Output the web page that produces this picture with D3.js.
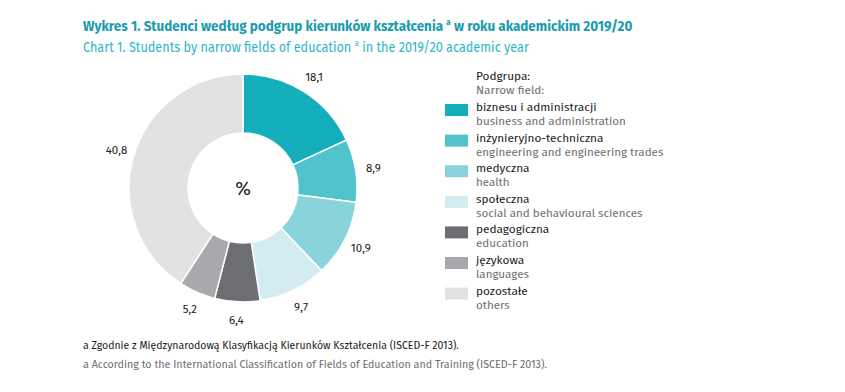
<!DOCTYPE html>
<html><head><meta charset="utf-8">
<script src="https://cdn.jsdelivr.net/npm/d3@7"></script>
<style>
body{margin:0;background:#fff;}
text{font-family:"Fira Sans","Open Sans","Noto Sans",sans-serif;}
</style></head>
<body><svg id="c" width="845" height="392"></svg>
<script>
const categoriesPL = ["biznesu i administracji","inżynieryjno-techniczna","medyczna","społeczna","pedagogiczna","językowa","pozostałe"];
const categoriesEN = ["business and administration","engineering and engineering trades","health","social and behavioural sciences","education","languages","others"];
const values = [18.1, 8.9, 10.9, 9.7, 6.4, 5.2, 40.8];
const valueLabels = ["18,1","8,9","10,9","9,7","6,4","5,2","40,8"];
const colors = ["#14afba","#50c3cc","#89d4da","#d2ecf1","#6d6e71","#a7a9ac","#e1e2e2"];

const svg = d3.select("#c");
const cx = 243, cy = 188, rOut = 114, rIn = 55;

function titleLine(y, parts, opts){
  const t = svg.append("text").attr("x",83).attr("y",y).attr("fill",opts.fill)
    .attr("font-size",15).attr("font-weight",opts.weight);
  t.append("tspan").text(parts[0]);
  t.append("tspan").attr("font-size",9).attr("dy",-6).text("a");
  t.append("tspan").attr("dy",6).text(parts[1]);
  return t;
}
const t1 = titleLine(31, ["Wykres 1. Studenci według podgrup kierunków kształcenia ", " w roku akademickim 2019/20"], {fill:"#1b9bad", weight:"bold"});
const t2 = titleLine(52, ["Chart 1. Students by narrow fields of education ", " in the 2019/20 academic year"], {fill:"#2db6c8", weight:"normal"});
// fit widths to reference
[[t1,550],[t2,446]].forEach(([t,w])=>{
  const bw = t.node().getComputedTextLength();
  const s = w/bw;
  t.attr("transform",`translate(83,0) scale(${s},1) translate(-83,0)`);
});

const pie = d3.pie().sort(null).value(d=>d);
const arcs = pie(values);
const arc = d3.arc().innerRadius(rIn).outerRadius(rOut);
const labelArc = d3.arc().innerRadius(132).outerRadius(132);
const g = svg.append("g").attr("transform",`translate(${cx},${cy})`);
g.selectAll("path").data(arcs).join("path")
  .attr("d",arc).attr("fill",(d,i)=>colors[i]).attr("stroke","#fff").attr("stroke-width",1.5);
g.selectAll("text.lbl").data(arcs).join("text").attr("class","lbl")
  .attr("transform",d=>{const c=labelArc.centroid(d);return `translate(${c[0]},${c[1]})`;})
  .attr("text-anchor","middle").attr("dy","0.35em").attr("font-size",11.5).attr("fill","#222")
  .text((d,i)=>valueLabels[i]);
g.append("text").attr("text-anchor","middle").attr("dy","0.35em").attr("font-size",19).attr("fill","#222").text("%");

const lx = 476, ly = 80;
svg.append("text").attr("x",lx).attr("y",ly).attr("font-size",11.8).attr("fill","#1a1a1a").text("Podgrupa:");
svg.append("text").attr("x",lx).attr("y",ly+14).attr("font-size",11.8).attr("fill","#6d6e71").text("Narrow field:");
const leg = svg.append("g");
categoriesPL.forEach((c,i)=>{
  const y0 = 104 + i*30.6;
  leg.append("rect").attr("x",445).attr("y",y0).attr("width",23).attr("height",12).attr("fill",colors[i]);
  leg.append("text").attr("x",lx).attr("y",y0+7).attr("font-size",11.8).attr("fill","#1a1a1a").text(c);
  leg.append("text").attr("x",lx).attr("y",y0+21).attr("font-size",11.6).attr("fill","#6d6e71").text(categoriesEN[i]);
});

svg.append("text").attr("x",83).attr("y",349).attr("font-size",10.5).attr("fill","#1a1a1a")
  .text("a Zgodnie z Międzynarodową Klasyfikacją Kierunków Kształcenia (ISCED-F 2013).");
svg.append("text").attr("x",83).attr("y",368).attr("font-size",10.7).attr("fill","#6d6e71")
  .text("a According to the International Classification of Fields of Education and Training (ISCED-F 2013).");
</script></body></html>
